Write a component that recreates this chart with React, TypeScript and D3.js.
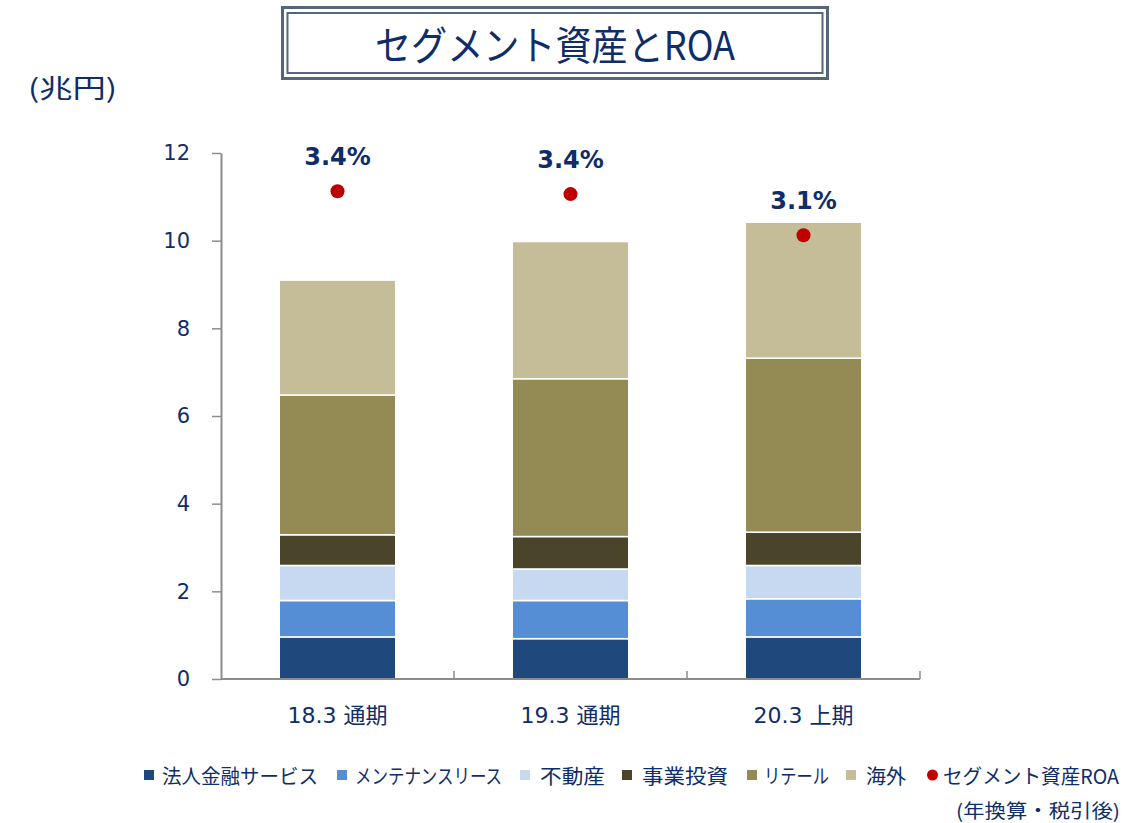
import React, { useEffect, useRef } from 'react';
import * as d3 from 'd3';

// periods on the x axis
const periods = ['18.3 通期', '19.3 通期', '20.3 上期'];

// segment assets (兆円), bottom to top
const houjinKinyu = [0.96, 0.92, 0.96];
const maintenanceLease = [0.83, 0.87, 0.87];
const fudousan = [0.8, 0.72, 0.76];
const jigyouToushi = [0.7, 0.74, 0.76];
const retail = [3.19, 3.6, 3.97];
const kaigai = [2.62, 3.13, 3.1];

// segment ROA (%)
const roa = [3.44, 3.42, 3.13];

const segmentNames = ['法人金融サービス', 'メンテナンスリース', '不動産', '事業投資', 'リテール', '海外'];
const segmentColors = ['#1f497d', '#558ed5', '#c6d9f1', '#4a452a', '#948a54', '#c4bd97'];
const yTicks = [0, 2, 4, 6, 8, 10, 12];

const NAVY = '#0f2d69';
const LATIN = "Verdana, 'DejaVu Sans', 'Noto Sans CJK JP', sans-serif";
const CJK = "'Noto Sans CJK JP', sans-serif";

const App = () => {
  const svgRef = useRef<SVGSVGElement | null>(null);

  useEffect(() => {
    const svg = d3.select(svgRef.current);
    svg.selectAll('*').remove();

    const series = [houjinKinyu, maintenanceLease, fudousan, jigyouToushi, retail, kaigai];
    const rows = periods.map((p, i) => {
      const row: any = { period: p };
      segmentNames.forEach((n, k) => (row[n] = series[k][i]));
      return row;
    });
    const stacked = d3.stack().keys(segmentNames)(rows);

    // scales
    const x = d3
      .scaleBand()
      .domain(periods)
      .range([221, 920])
      .paddingInner(0.5)
      .paddingOuter(0.25);
    const y = d3.scaleLinear().domain([0, 12]).range([679, 153]);
    const yRoa = d3.scaleLinear().domain([0, 3.71]).range([679, 153]);

    // title box (double frame)
    const title = svg.append('g');
    title
      .append('rect')
      .attr('x', 282.5)
      .attr('y', 7.5)
      .attr('width', 545)
      .attr('height', 71)
      .attr('fill', 'white')
      .attr('stroke', '#56657e')
      .attr('stroke-width', 3);
    title
      .append('rect')
      .attr('x', 287.5)
      .attr('y', 13)
      .attr('width', 535)
      .attr('height', 60)
      .attr('fill', 'none')
      .attr('stroke', '#56657e')
      .attr('stroke-width', 2);
    title
      .append('text')
      .attr('x', 555)
      .attr('y', 43)
      .attr('text-anchor', 'middle')
      .attr('dominant-baseline', 'central')
      .attr('textLength', 360)
      .attr('lengthAdjust', 'spacingAndGlyphs')
      .style('font-family', CJK)
      .style('font-size', '40px')
      .style('fill', NAVY)
      .text('セグメント資産とROA');

    // unit label
    svg
      .append('text')
      .attr('x', 28)
      .attr('y', 86)
      .attr('dominant-baseline', 'central')
      .attr('textLength', 89)
      .attr('lengthAdjust', 'spacingAndGlyphs')
      .style('font-family', CJK)
      .style('font-size', '26px')
      .style('fill', NAVY)
      .text('(兆円)');

    // y axis
    const yAxis = svg
      .append('g')
      .attr('transform', 'translate(221,0)')
      .call(d3.axisLeft(y).tickValues(yTicks).tickSize(9).tickPadding(22).tickSizeOuter(0));
    yAxis.select('.domain').attr('stroke', '#8c8c8c').attr('stroke-width', 2);
    yAxis.selectAll('.tick line').attr('stroke', '#8c8c8c').attr('stroke-width', 1.5);
    yAxis
      .selectAll('.tick text')
      .style('font-family', LATIN)
      .style('font-size', '21px')
      .style('fill', NAVY);

    // stacked bars
    svg
      .append('g')
      .selectAll('g')
      .data(stacked)
      .enter()
      .append('g')
      .attr('fill', (d, i) => segmentColors[i])
      .selectAll('rect')
      .data(d => d)
      .enter()
      .append('rect')
      .attr('x', d => x(d.data.period as string)!)
      .attr('width', x.bandwidth())
      .attr('y', d => y(d[1]))
      .attr('height', d => y(d[0]) - y(d[1]))
      .attr('stroke', 'white')
      .attr('stroke-width', 1.5);

    // x axis
    svg
      .append('line')
      .attr('x1', 221)
      .attr('x2', 920)
      .attr('y1', y(0))
      .attr('y2', y(0))
      .attr('stroke', '#8c8c8c')
      .attr('stroke-width', 2);
    const step = x.step();
    const boundaries = periods.map((p, i) => 221 + step * (i + 1));
    svg
      .append('g')
      .selectAll('line')
      .data(boundaries)
      .enter()
      .append('line')
      .attr('x1', d => d)
      .attr('x2', d => d)
      .attr('y1', y(0))
      .attr('y2', y(0) - 8)
      .attr('stroke', '#8c8c8c')
      .attr('stroke-width', 1.5);
    svg
      .append('g')
      .selectAll('text')
      .data(periods)
      .enter()
      .append('text')
      .attr('x', d => x(d)! + x.bandwidth() / 2)
      .attr('y', 715)
      .attr('text-anchor', 'middle')
      .attr('dominant-baseline', 'central')
      .style('font-family', LATIN)
      .style('font-size', '22px')
      .style('fill', NAVY)
      .text(d => d);

    // ROA dots and labels
    const roaG = svg.append('g');
    roaG
      .selectAll('circle')
      .data(roa)
      .enter()
      .append('circle')
      .attr('cx', (d, i) => x(periods[i])! + x.bandwidth() / 2)
      .attr('cy', d => yRoa(d))
      .attr('r', 7)
      .attr('fill', '#c00000');
    roaG
      .selectAll('text')
      .data(roa)
      .enter()
      .append('text')
      .attr('x', (d, i) => x(periods[i])! + x.bandwidth() / 2)
      .attr('y', d => yRoa(d) - 26)
      .attr('text-anchor', 'middle')
      .style('font-family', LATIN)
      .style('font-size', '24px')
      .style('font-weight', 'bold')
      .style('fill', NAVY)
      .text(d => `${d.toFixed(1)}%`);

    // legend
    const legendItems = [
      ...segmentNames.map((n, i) => ({ name: n, color: segmentColors[i], dot: false })),
      { name: 'セグメント資産ROA', color: '#c00000', dot: true },
    ];
    const markerX = [144, 337, 520, 622, 747, 846, 927];
    const textSpan = [[162, 318], [355, 502], [540, 605], [642, 728], [764, 829], [866, 906], [943, 1119]];
    const legend = svg.append('g');
    legendItems.forEach((item, i) => {
      if (item.dot) {
        legend
          .append('circle')
          .attr('cx', markerX[i] + 5.5)
          .attr('cy', 775)
          .attr('r', 5.5)
          .attr('fill', item.color);
      } else {
        legend
          .append('rect')
          .attr('x', markerX[i])
          .attr('y', 770)
          .attr('width', 10)
          .attr('height', 10)
          .attr('fill', item.color);
      }
      legend
        .append('text')
        .attr('x', textSpan[i][0])
        .attr('y', 775)
        .attr('dominant-baseline', 'central')
        .attr('textLength', textSpan[i][1] - textSpan[i][0])
        .attr('lengthAdjust', 'spacingAndGlyphs')
        .style('font-family', CJK)
        .style('font-size', '20px')
        .style('fill', NAVY)
        .text(item.name);
    });
    legend
      .append('text')
      .attr('x', 956)
      .attr('y', 809)
      .attr('dominant-baseline', 'central')
      .attr('textLength', 164)
      .attr('lengthAdjust', 'spacingAndGlyphs')
      .style('font-family', CJK)
      .style('font-size', '19px')
      .style('fill', NAVY)
      .text('(年換算・税引後)');
  }, []);

  return (
    <svg
      ref={svgRef}
      width={1148}
      height={823}
      style={{ position: 'absolute', left: 0, top: 0, background: 'white' }}
    ></svg>
  );
};

export default App;
